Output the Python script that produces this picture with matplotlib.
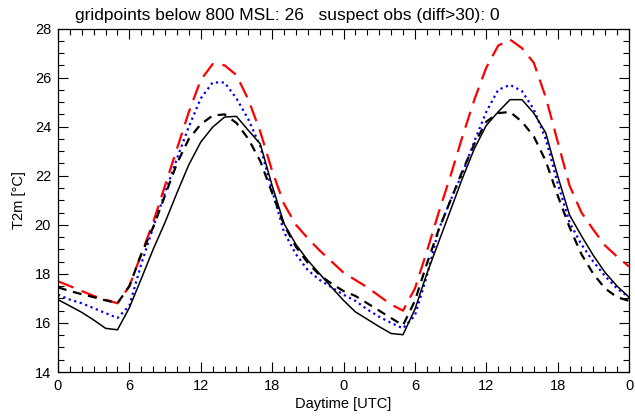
import matplotlib
matplotlib.use("Agg")
import matplotlib.pyplot as plt
from matplotlib.ticker import MultipleLocator
import numpy as np

plt.rcParams['font.family'] = ['Liberation Sans', 'DejaVu Sans']

# hourly values, 0..48 h
hours = list(range(49))
obs = [16.95, 16.69, 16.43, 16.12, 15.78, 15.72, 16.62, 17.8, 19.0, 20.1,
       21.3, 22.45, 23.37, 23.98, 24.39, 24.42, 23.85, 23.3, 21.6, 20.05,
       19.2, 18.55, 18.0, 17.45, 16.92, 16.45, 16.15, 15.85, 15.57, 15.52,
       16.55, 18.0, 19.3, 20.6, 21.9, 23.1, 24.05, 24.6, 25.1, 25.1,
       24.55, 23.75, 22.0, 20.4, 19.55, 18.75, 18.05, 17.5, 17.05]
red = [17.7, 17.5, 17.3, 17.1, 16.95, 16.8, 17.5, 18.8, 20.1, 21.6,
       23.1, 24.6, 25.9, 26.55, 26.5, 26.1, 25.1, 23.8, 22.2, 20.85,
       20.0, 19.45, 18.95, 18.5, 18.05, 17.75, 17.45, 17.1, 16.75, 16.5,
       17.4, 18.9, 20.5, 22.0, 23.6, 25.1, 26.4, 27.3, 27.55, 27.2,
       26.6, 25.2, 23.4, 21.6, 20.5, 19.8, 19.15, 18.7, 18.3]
blue = [17.15, 16.95, 16.8, 16.6, 16.4, 16.2, 16.7, 18.4, 19.9, 21.3,
        22.7, 24.0, 25.15, 25.8, 25.8, 25.15, 24.3, 23.2, 21.4, 19.7,
        18.8, 18.15, 17.75, 17.45, 17.15, 16.9, 16.55, 16.25, 16.0, 15.78,
        16.3, 17.9, 19.8, 21.0, 22.1, 23.4, 24.6, 25.5, 25.7, 25.45,
        24.7, 23.5, 21.7, 20.1, 19.2, 18.5, 17.9, 17.4, 17.05]
dash = [17.45, 17.3, 17.17, 17.05, 16.92, 16.8, 17.5, 18.8, 19.9, 21.2,
        22.5, 23.5, 24.1, 24.45, 24.5, 24.15, 23.5, 22.6, 21.3, 20.0,
        19.1, 18.45, 17.95, 17.6, 17.3, 17.1, 16.8, 16.5, 16.2, 15.9,
        16.9, 18.4, 19.8, 21.0, 22.2, 23.3, 24.2, 24.55, 24.6, 24.2,
        23.6, 22.6, 21.2, 19.9, 18.8, 18.0, 17.4, 17.05, 16.9]
xticklabels = ['0', '6', '12', '18', '0', '6', '12', '18', '0']
title = 'gridpoints below 800 MSL: 26   suspect obs (diff>30): 0'

fig = plt.figure(figsize=(6.35, 4.17), dpi=100)
ax = fig.add_axes([58/635, 1-372/417, 571/635, 343.5/417])

ax.plot(hours, red, color='red', lw=1.6, dashes=(7.5, 4))
ax.plot(hours, blue, color='blue', lw=1.6, dashes=(1, 1.6))
ax.plot(hours, dash, color='black', lw=1.6, dashes=(4, 3))
ax.plot(hours, obs, color='black', lw=1.1)

ax.set_xlim(0, 48)
ax.set_ylim(14, 28)
ax.set_xticks(range(0, 49, 6))
ax.set_xticklabels(xticklabels)
ax.set_yticks(range(14, 29, 2))
ax.xaxis.set_minor_locator(MultipleLocator(1))
ax.yaxis.set_minor_locator(MultipleLocator(0.5))
ax.tick_params(which='both', direction='in', top=True, right=True,
               width=0.8, labelsize=10.5, pad=5)
ax.tick_params(which='major', length=7)
ax.tick_params(which='minor', length=4)
for s in ax.spines.values():
    s.set_linewidth(0.9)

ax.set_xlabel('Daytime [UTC]', fontsize=10.5, labelpad=3)
ax.set_ylabel('T2m [°C]', fontsize=10.5, labelpad=6)
fig.text(75/635, 1-20/417, title, fontsize=12.5, ha='left', va='baseline')

fig.savefig('out.png', dpi=100)
